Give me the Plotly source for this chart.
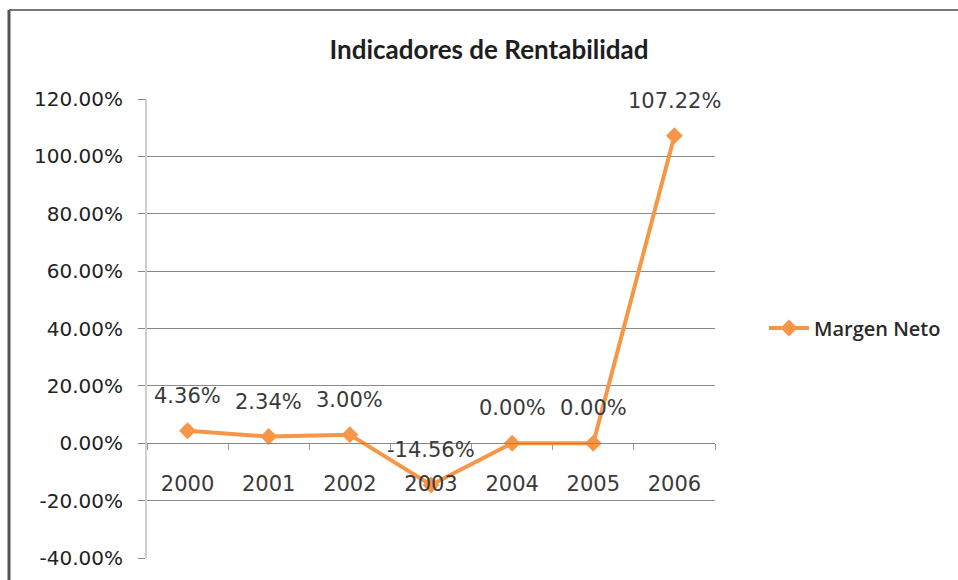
import plotly.graph_objects as go

years = ["2000", "2001", "2002", "2003", "2004", "2005", "2006"]
margen_neto = [4.36, 2.34, 3.00, -14.56, 0.00, 0.00, 107.22]
y_ticks = [-40, -20, 0, 20, 40, 60, 80, 100, 120]
series_name = "Margen Neto"
title = "Indicadores de Rentabilidad"

W, H = 958, 580
L, R, T, B = 147, 243, 99, 22
pw, ph = W - L - R, H - T - B

def px_x(px):
    return (px - L) / pw

def px_y(py):
    return (H - B - py) / ph

orange = "#F79646"
txt = "#3a3a3a"

fig = go.Figure()
fig.add_trace(go.Scatter(
    x=years, y=margen_neto, mode="lines+markers", name=series_name,
    line=dict(color=orange, width=4),
    marker=dict(symbol="diamond", size=13, color=orange),
))

for i, v in enumerate(margen_neto):
    fig.add_annotation(x=i, y=v, xref="x", yref="y", text=f"{v:.2f}%", showarrow=False,
                       yshift=35, font=dict(family="DejaVu Sans", size=21, color=txt))

fig.update_layout(
    width=W, height=H,
    margin=dict(l=L, r=R, t=T, b=B, autoexpand=False),
    paper_bgcolor="white", plot_bgcolor="white",
    title=dict(text=title, x=(489 / W), xanchor="center", y=1 - 50 / H, yanchor="middle",
               font=dict(family="Lato", size=26, color="#1e1e1e", weight="bold")),
    showlegend=True,
    legend=dict(x=px_x(764), y=px_y(328), xanchor="left", yanchor="middle",
                font=dict(family="Open Sans", size=20, color="#2a2a2a", weight=600),
                bgcolor="rgba(0,0,0,0)", itemwidth=40),
    xaxis=dict(type="category", categoryorder="array", categoryarray=years,
               range=[-0.5, len(years) - 0.5],
               anchor="free", position=(0 - (-40)) / 160, automargin=False,
               showline=True, linecolor="#888", linewidth=1,
               ticks="outside", tickson="boundaries", ticklen=6, tickcolor="#999",
               showgrid=False, zeroline=False, ticklabelstandoff=22,
               tickfont=dict(family="DejaVu Sans", size=21, color=txt)),
    yaxis=dict(range=[-40, 120], tickvals=y_ticks, ticktext=[f"{t:.2f}%" for t in y_ticks],
               automargin=False,
               showgrid=True, gridcolor="#8a8a8a", gridwidth=1, zeroline=False,
               showline=True, linecolor="#cfcfcf", linewidth=2,
               ticks="outside", ticklen=7, tickcolor="#888", ticklabelstandoff=11,
               tickfont=dict(family="DejaVu Sans", size=20, color="#222")),
)

# outer chart frame (top and left edges visible)
fig.add_shape(type="line", xref="paper", yref="paper",
              x0=px_x(9), x1=px_x(W + 5), y0=px_y(10), y1=px_y(10),
              line=dict(color="#777", width=2))
fig.add_shape(type="line", xref="paper", yref="paper",
              x0=px_x(9), x1=px_x(9), y0=px_y(10), y1=px_y(H + 5),
              line=dict(color="#555", width=3))

fig.write_html("out.html", config={"displayModeBar": False},
               post_script="document.body.style.margin='0';document.body.style.overflow='hidden';")
